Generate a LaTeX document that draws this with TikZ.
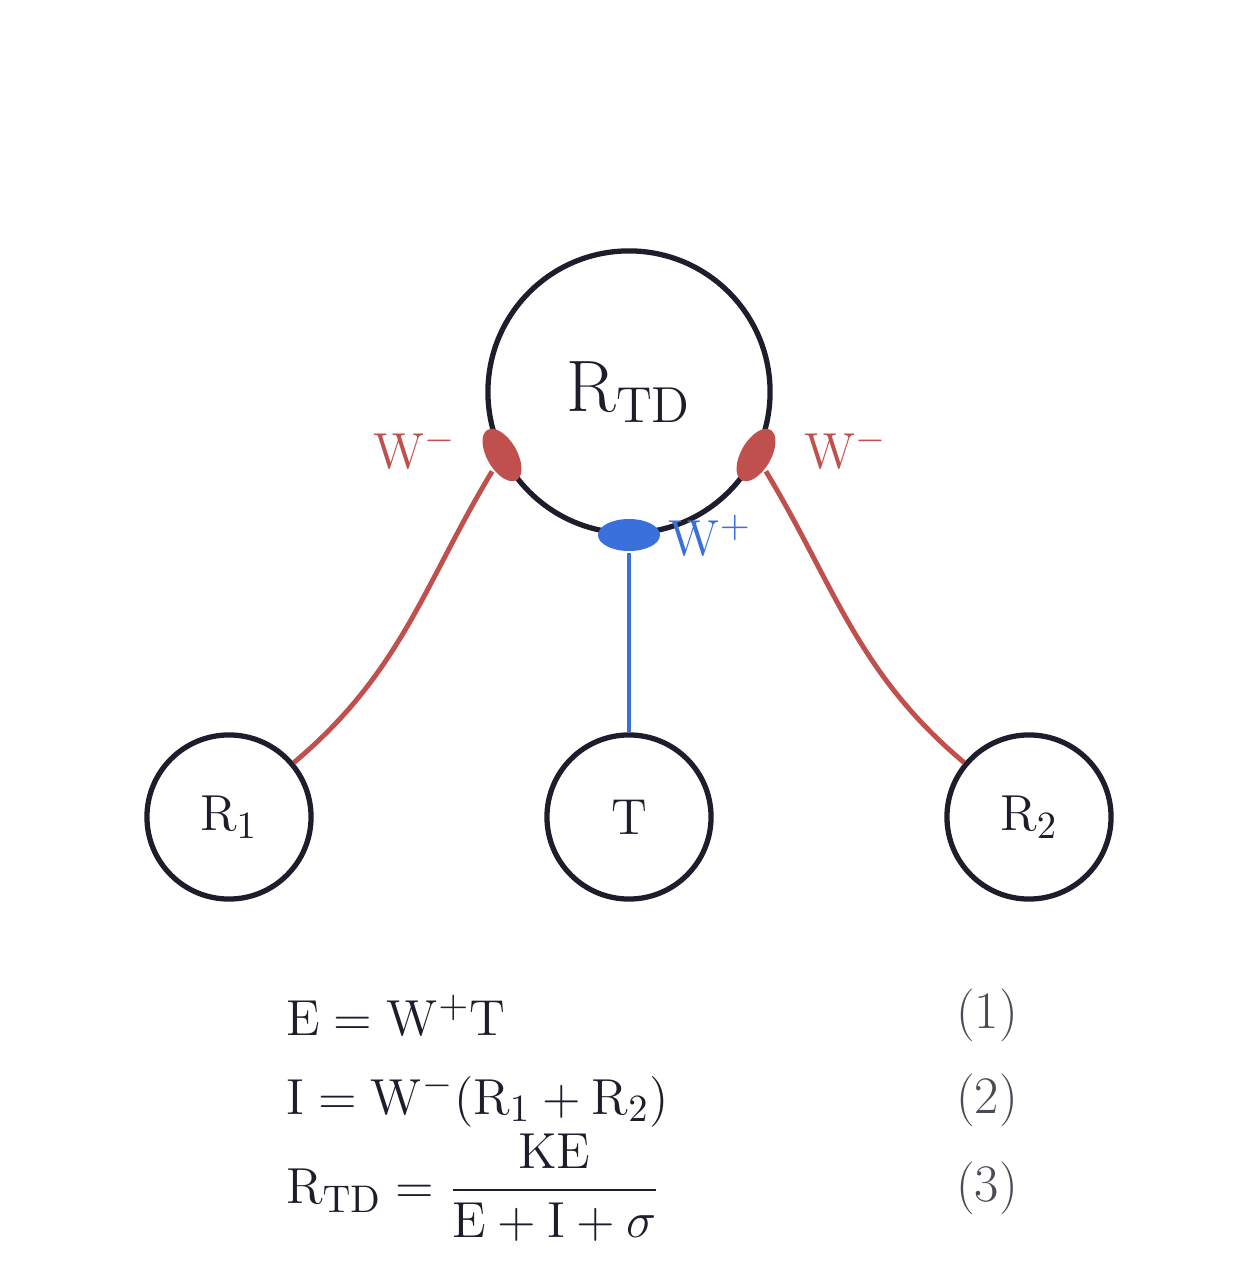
\documentclass[tikz,border=0pt]{standalone}
\usepackage{amsmath}
\usepackage{sansmath}
\usepackage{tikz}
\usetikzlibrary{shapes.geometric,positioning}
\definecolor{ink}{HTML}{1E1D2B}
\definecolor{inh}{HTML}{C0504D}
\definecolor{exc}{HTML}{3A70DB}
\begin{document}
\sansmath
\begin{tikzpicture}[x=0.01cm, y=-0.01cm, line width=1.4pt,
  unit/.style={circle, draw=ink, line width=1.5pt, minimum size=1.64cm, inner sep=0pt, font=\fontsize{15}{18}\selectfont, text=ink},
  syn/.style={ellipse, fill=#1, draw=none, inner sep=0pt}]
  \useasboundingbox (0,0) rectangle (1258,1268);
  \node[unit, minimum size=2.82cm, font=\fontsize{20}{24}\selectfont] (rtd) at (629,392) {$R_{TD}$};
  \node[unit] (rone) at (229,817) {$R_1$};
  \node[unit] (t) at (629,817) {$T$};
  \node[unit] (rtwo) at (1029,817) {$R_2$};
  % synapses
  \node[syn=inh, minimum width=0.58cm, minimum height=0.3cm, rotate=-60] (wl) at (502,455) {};
  \node[syn=inh, minimum width=0.58cm, minimum height=0.3cm, rotate=60] (wr) at (756,455) {};
  \node[syn=exc, minimum width=0.62cm, minimum height=0.32cm] (wp) at (629,535) {};
  \draw[inh] (wl) to[out=-115, in=40] (rone);
  \draw[inh] (wr) to[out=-65, in=140] (rtwo);
  \draw[exc] (wp) -- (t);
  \node[text=inh, font=\fontsize{15}{18}\selectfont] at (415,448) {$W^-$};
  \node[text=inh, font=\fontsize{15}{18}\selectfont] at (846,448) {$W^-$};
  \node[text=exc, font=\fontsize{15}{18}\selectfont] at (710,535) {$W^+$};
  % equations
  \begin{scope}[every node/.style={text=ink, font=\fontsize{15}{18}\selectfont, anchor=west}]
    \node at (272,1015) {$E = W^+T$};
    \node at (272,1100) {$I = W^-(R_1+R_2)$};
    \node at (272,1188) {$R_{TD} = \dfrac{KE}{E+I+\sigma}$};
    \node[text=ink!80, anchor=center] at (987,1015) {(1)};
    \node[text=ink!80, anchor=center] at (987,1100) {(2)};
    \node[text=ink!80, anchor=center] at (987,1188) {(3)};
  \end{scope}
\end{tikzpicture}
\end{document}
